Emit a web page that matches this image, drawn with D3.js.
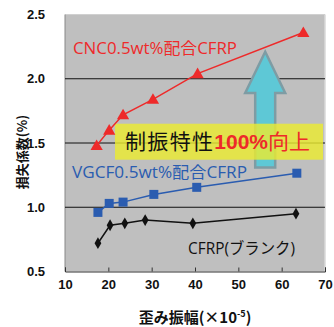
<!DOCTYPE html>
<html><head><meta charset="utf-8">
<script src="https://cdn.jsdelivr.net/npm/d3@7"></script>
<style>body{margin:0;background:#fff}svg{display:block}</style>
</head><body>
<script>
const xTicks = [10,20,30,40,50,60,70];
const yTicks = [0.5,1.0,1.5,2.0,2.5];
const cncX = [17.3,20.2,23.4,30.3,40.6,65];
const cncY = [1.48,1.60,1.72,1.84,2.04,2.36];
const vgcfX = [17.6,20.2,23.4,30.5,40.4,63.5];
const vgcfY = [0.96,1.03,1.04,1.10,1.155,1.265];
const cfrpX = [17.6,20.4,23.8,28.5,39.5,63.3];
const cfrpY = [0.72,0.86,0.875,0.90,0.875,0.95];
const seriesLabels = ["CNC0.5wt%配合CFRP","VGCF0.5wt%配合CFRP","CFRP(ブランク)"];

const W=334,H=327;
const m={l:65,r:9,t:14.5,b:55.5};
const svg=d3.select("body").append("svg").attr("width",W).attr("height",H);
const x=d3.scaleLinear().domain([10,70]).range([m.l,W-m.r]);
const y=d3.scaleLinear().domain([0.5,2.5]).range([H-m.b,m.t]);

svg.append("rect").attr("x",x(10)).attr("y",y(2.5)).attr("width",x(70)-x(10)).attr("height",y(0.5)-y(2.5)).attr("fill","#bfbfbf");
svg.append("line").attr("x1",x(70)).attr("x2",x(70)).attr("y1",y(2.5)).attr("y2",y(0.5)).attr("stroke","#d8d8d8").attr("stroke-width",1.5);
svg.append("line").attr("x1",x(10)).attr("x2",x(70)).attr("y1",y(2.5)).attr("y2",y(2.5)).attr("stroke","#d0d0d0");
svg.append("line").attr("x1",x(10)).attr("x2",x(10)).attr("y1",y(2.5)).attr("y2",y(0.5)).attr("stroke","#888");

// gridlines
svg.append("g").selectAll("line").data(yTicks.filter(d=>d>0.5&&d<2.5)).join("line")
  .attr("x1",x(10)).attr("x2",x(70)).attr("y1",d=>y(d)).attr("y2",d=>y(d)).attr("stroke","#111").attr("stroke-width",1);

// x axis
const xa=d3.axisBottom(x).tickValues(xTicks).tickSize(-4).tickFormat(d3.format("d"));
const gx=svg.append("g").attr("transform",`translate(0,${y(0.5)})`).call(xa);
gx.select(".domain").attr("stroke","#333");
gx.selectAll(".tick line").attr("stroke","#333");
gx.selectAll("text").attr("dy",0).attr("y",17).attr("font-family","Liberation Sans Narrow, Liberation Sans, Arial").attr("font-weight","bold").attr("font-size",13).attr("fill","#111");

// y axis labels
const ya=d3.axisLeft(y).tickValues(yTicks).tickSize(0).tickFormat(d3.format(".1f"));
const gy=svg.append("g").attr("transform",`translate(${x(10)-17},0)`).call(ya);
gy.select(".domain").remove();
gy.selectAll("text").attr("font-family","Liberation Sans Narrow, Liberation Sans, Arial").attr("font-weight","bold").attr("font-size",13).attr("fill","#111");

// arrow
const cx=x(56.2);
const ap=d3.path();
ap.moveTo(cx,y(2.21)); ap.lineTo(cx+20,y(1.89)); ap.lineTo(cx+10,y(1.89)); ap.lineTo(cx+10,y(1.31));
ap.lineTo(cx-10,y(1.31)); ap.lineTo(cx-10,y(1.89)); ap.lineTo(cx-20,y(1.89)); ap.closePath();
svg.append("path").attr("d",ap.toString()).attr("fill","#5ec8d6").attr("stroke","#7e9ca4").attr("stroke-width",2.5);

// box
svg.append("rect").attr("x",115).attr("y",y(1.65)).attr("width",208).attr("height",y(1.37)-y(1.65)).attr("fill","#ecec2e").attr("opacity",0.8);
const bt=svg.append("text").attr("x",125).attr("y",y(1.45)).attr("font-family","Noto Sans CJK JP").attr("font-size",21);
bt.append("tspan").text("制振特性").attr("fill","#111").attr("textLength",88);
bt.append("tspan").text("100%").attr("fill","#ee2a2a").attr("font-weight","bold").attr("font-family","Liberation Sans, Arial");
bt.append("tspan").text("向上").attr("fill","#ee2a2a");

const line=d3.line().x(d=>x(d[0])).y(d=>y(d[1]));
const zip=(a,b)=>a.map((v,i)=>[v,b[i]]);

// CFRP black
const cf=zip(cfrpX,cfrpY);
svg.append("path").attr("d",line(cf)).attr("fill","none").attr("stroke","#111").attr("stroke-width",1.5);
svg.append("g").selectAll("path").data(cf).join("path")
  .attr("d",d3.symbol(d3.symbolDiamond,40)).attr("transform",d=>`translate(${x(d[0])},${y(d[1])})`).attr("fill","#111");

// VGCF blue
const vg=zip(vgcfX,vgcfY);
svg.append("path").attr("d",line(vg)).attr("fill","none").attr("stroke","#2a5cb0").attr("stroke-width",1.5);
svg.append("g").selectAll("rect").data(vg).join("rect")
  .attr("x",d=>x(d[0])-4.5).attr("y",d=>y(d[1])-4.5).attr("width",9).attr("height",9).attr("fill","#2a5cb0");

// CNC red
const cn=zip(cncX,cncY);
svg.append("path").attr("d",line(cn)).attr("fill","none").attr("stroke","#ee2a2a").attr("stroke-width",1.5);
svg.append("g").selectAll("path").data(cn).join("path")
  .attr("d",d3.symbol(d3.symbolTriangle,65)).attr("transform",d=>`translate(${x(d[0])},${y(d[1])+1})`).attr("fill","#ee2a2a");

// series labels
const lab=(t,xx,yy,len,col)=>svg.append("text").attr("x",xx).attr("y",yy).attr("font-family","Open Sans, Noto Sans CJK JP")
  .attr("font-size",15.5).attr("fill",col).attr("textLength",len).attr("lengthAdjust","spacingAndGlyphs").text(t);
lab(seriesLabels[0],73,53.5,164,"#ee2a2a");
lab(seriesLabels[1],72,177.5,175,"#2a5cb0");
lab(seriesLabels[2],188,253.5,107,"#111");

// axis titles
svg.append("text").attr("transform","translate(27,152) rotate(-90)").attr("text-anchor","middle")
  .attr("font-family","Noto Sans CJK JP").attr("font-weight","bold").attr("font-size",13).attr("fill","#111").text("損失係数(%)");
const xt=svg.append("text").attr("x",195).attr("y",323).attr("text-anchor","middle")
  .attr("font-family","Noto Sans CJK JP").attr("font-weight","bold").attr("font-size",15).attr("fill","#111");
xt.append("tspan").text("歪み振幅(×10");
xt.append("tspan").text("-5").attr("font-size",9).attr("dy",-6);
xt.append("tspan").text(")").attr("dy",6);
</script>
</body></html>
